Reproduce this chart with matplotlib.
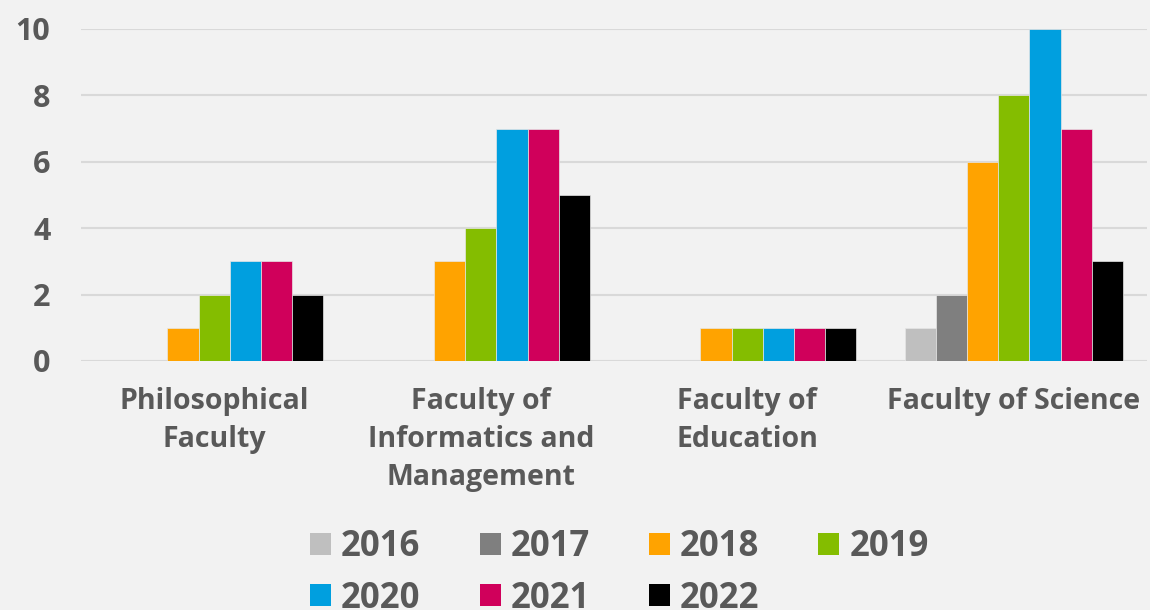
import numpy as np
import matplotlib.pyplot as plt
from matplotlib.patches import Patch

# data
faculties = ["Philosophical\nFaculty", "Faculty of\nInformatics and\nManagement",
             "Faculty of\nEducation", "Faculty of Science"]
years = ["2016", "2017", "2018", "2019", "2020", "2021", "2022"]
counts = {
    "2016": [0, 0, 0, 1],
    "2017": [0, 0, 0, 2],
    "2018": [1, 3, 1, 6],
    "2019": [2, 4, 1, 8],
    "2020": [3, 7, 1, 10],
    "2021": [3, 7, 1, 7],
    "2022": [2, 5, 1, 3],
}
colors = ["#bfbfbf", "#7f7f7f", "#ffa300", "#84bd00", "#009fdf", "#d0005b", "#000000"]

bg = "#f2f2f2"
txt = "#595959"
plt.rcParams['font.family'] = ['Open Sans', 'DejaVu Sans']
plt.rcParams['font.weight'] = 'bold'

fig = plt.figure(figsize=(11.5, 6.1), dpi=100, facecolor=bg)
ax = fig.add_axes([0.0704, 0.4082, 0.927, 0.5443], facecolor=bg)

x = np.arange(len(faculties))
w = 0.117
for i, yr in enumerate(years):
    ax.bar(x + (i - 3) * w, counts[yr], width=w, color=colors[i],
           edgecolor="#e6e6e6", linewidth=0.5, zorder=3)

ax.set_xlim(-0.5, len(faculties) - 0.5)
ax.set_ylim(0, 10)
ax.set_yticks(range(0, 11, 2))
ax.yaxis.grid(True, color="#d9d9d9", linewidth=1.5, zorder=0)
ax.tick_params(axis='y', length=0, pad=22, labelsize=22, labelcolor=txt)
ax.tick_params(axis='x', length=0, pad=19, labelsize=20.5, labelcolor=txt)
ax.set_xticks(x)
ax.set_xticklabels(faculties, linespacing=1.4)
for s in ax.spines.values():
    s.set_visible(False)

handles = [Patch(facecolor=c, edgecolor='none') for c in colors]
order = [0, 4, 1, 5, 2, 6, 3]
fig.legend([handles[k] for k in order], [years[k] for k in order],
           ncol=4, loc='center', bbox_to_anchor=(0.5387, 0.0607),
           frameon=False, fontsize=25, labelcolor=txt,
           handlelength=0.6, handleheight=0.6, handletextpad=0.29,
           columnspacing=1.7, labelspacing=0.44)

fig.savefig("out.png", dpi=100, facecolor=bg)
